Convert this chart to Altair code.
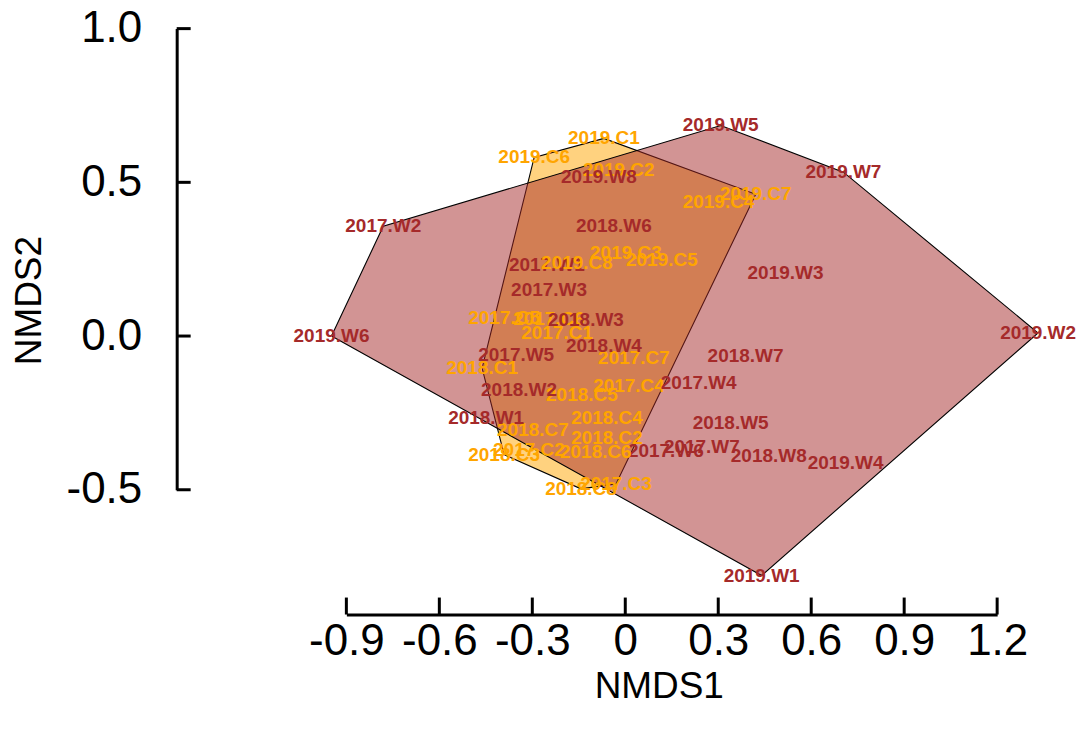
import altair as alt
import pandas as pd

# ---- data (NMDS site scores) ----
W_names = ["2017.W1", "2017.W2", "2017.W3", "2017.W4", "2017.W5", "2017.W6", "2017.W7",
           "2018.W1", "2018.W2", "2018.W3", "2018.W4", "2018.W5", "2018.W6", "2018.W7", "2018.W8",
           "2019.W1", "2019.W2", "2019.W3", "2019.W4", "2019.W5", "2019.W6", "2019.W7", "2019.W8"]
W_x = [-0.253, -0.781, -0.246, 0.237, -0.352, 0.131, 0.247,
       -0.449, -0.343, -0.127, -0.069, 0.340, -0.037, 0.388, 0.463,
       0.440, 1.332, 0.517, 0.711, 0.308, -0.948, 0.704, -0.085]
W_y = [0.231, 0.357, 0.149, -0.153, -0.062, -0.373, -0.360,
       -0.266, -0.175, 0.052, -0.032, -0.282, 0.357, -0.065, -0.390,
       -0.779, 0.010, 0.205, -0.412, 0.685, 0.000, 0.533, 0.516]

C_names = ["2017.C1", "2017.C2", "2017.C3", "2017.C4", "2017.C5", "2017.C6", "2017.C7",
           "2018.C1", "2018.C2", "2018.C3", "2018.C4", "2018.C5", "2018.C6", "2018.C7", "2018.C8",
           "2019.C1", "2019.C2", "2019.C3", "2019.C4", "2019.C5", "2019.C6", "2019.C7", "2019.C8"]
C_x = [-0.220, -0.311, -0.030, 0.012, -0.391, -0.246, 0.028,
       -0.462, -0.059, -0.391, -0.059, -0.140, -0.095, -0.298, -0.143,
       -0.069, -0.021, 0.002, 0.301, 0.118, -0.294, 0.421, -0.156]
C_y = [0.010, -0.370, -0.481, -0.162, 0.058, 0.055, -0.071,
       -0.104, -0.331, -0.386, -0.266, -0.192, -0.377, -0.305, -0.497,
       0.643, 0.539, 0.270, 0.435, 0.247, 0.581, 0.461, 0.237]

x_ticks = [-0.9, -0.6, -0.3, 0.0, 0.3, 0.6, 0.9, 1.2]
y_ticks = [-0.5, 0.0, 0.5, 1.0]

W_fill = "#A52A2A"
C_fill = "#FFA500"
FONT = "Liberation Sans"


def convex_hull(xs, ys):
    pts = sorted(set(zip(xs, ys)))

    def cross(o, a, b):
        return (a[0] - o[0]) * (b[1] - o[1]) - (a[1] - o[1]) * (b[0] - o[0])

    lower, upper = [], []
    for p in pts:
        while len(lower) >= 2 and cross(lower[-2], lower[-1], p) <= 0:
            lower.pop()
        lower.append(p)
    for p in reversed(pts):
        while len(upper) >= 2 and cross(upper[-2], upper[-1], p) <= 0:
            upper.pop()
        upper.append(p)
    return lower[:-1] + upper[:-1]


def hull_frame(xs, ys):
    h = convex_hull(xs, ys)
    h = h + [h[0]]
    return pd.DataFrame({"x": [p[0] for p in h], "y": [p[1] for p in h], "i": list(range(len(h)))})


hull_C = hull_frame(C_x, C_y)
hull_W = hull_frame(W_x, W_y)

pts = pd.DataFrame({
    "name": W_names + C_names,
    "x": W_x + C_x,
    "y": W_y + C_y,
    "g": ["W"] * len(W_names) + ["C"] * len(C_names),
}).sort_values("name").reset_index(drop=True)

xscale = alt.Scale(domain=[-0.9, 1.2], nice=False, zero=False)
yscale = alt.Scale(domain=[-0.5, 1.0], nice=False, zero=False)

x_axis = alt.Axis(
    values=x_ticks, title="NMDS1", grid=False, ticks=False, tickSize=0,
    domain=True, domainColor="black", domainWidth=3, offset=125,
    labelFont=FONT, labelFontSize=44, labelColor="black", labelPadding=5,
    labelBaseline="top", labelFlush=False, labelOverlap=False,
    labelExpr="abs(datum.value) < 1e-9 ? '0' : (datum.value < 0 ? '-' : '') + format(abs(datum.value), '.1f')",
    titleFont=FONT, titleFontSize=37, titleFontWeight="normal", titleColor="black",
    titleX=313, titleY=54, titleBaseline="top", titleAlign="center",
)
y_axis = alt.Axis(
    values=y_ticks, title="NMDS2", grid=False, ticks=False, tickSize=0,
    domain=True, domainColor="black", domainWidth=3, offset=170,
    labelFont=FONT, labelFontSize=44, labelColor="black", labelPadding=35,
    labelFlush=False, labelOverlap=False,
    labelExpr="(datum.value < 0 ? '-' : '') + format(abs(datum.value), '.1f')",
    titleFont=FONT, titleFontSize=37, titleFontWeight="normal", titleColor="black",
    titleX=-147, titleY=272, titleAngle=270, titleBaseline="middle", titleAlign="center",
)

X = alt.X("x:Q", scale=xscale, axis=x_axis, title="NMDS1")
Y = alt.Y("y:Q", scale=yscale, axis=y_axis, title="NMDS2")

hullC_layer = alt.Chart(hull_C).mark_line(
    fill=C_fill, fillOpacity=0.5, stroke="black", strokeWidth=1.1
).encode(x=X, y=Y, order=alt.Order("i:Q"))

hullW_layer = alt.Chart(hull_W).mark_line(
    fill=W_fill, fillOpacity=0.5, stroke="black", strokeWidth=1.1
).encode(x=X, y=Y, order=alt.Order("i:Q"))

text_layer = alt.Chart(pts).mark_text(
    font=FONT, fontSize=19, fontWeight="bold", align="center", baseline="middle"
).encode(
    x=X,
    y=Y,
    text="name:N",
    color=alt.Color("g:N", scale=alt.Scale(domain=["C", "W"], range=[C_fill, W_fill]), legend=None),
)

xt = alt.Chart(pd.DataFrame({"x": x_ticks})).mark_rule(color="black", strokeWidth=3).encode(
    x=X,
    y=alt.value(587),
    y2=alt.value(570),
)
yt = alt.Chart(pd.DataFrame({"y": y_ticks})).mark_rule(color="black", strokeWidth=3).encode(
    y=Y,
    x=alt.value(-170),
    x2=alt.value(-156),
)

chart = alt.layer(hullC_layer, hullW_layer, text_layer, xt, yt).properties(
    width=652,
    height=462,
    background="white",
    autosize=alt.AutoSizeParams(type="none"),
    padding={"left": 339, "top": 20, "right": 80, "bottom": 220},
).configure_view(strokeWidth=0)

chart.save("out.html", embed_options={"renderer": "svg", "actions": False})
